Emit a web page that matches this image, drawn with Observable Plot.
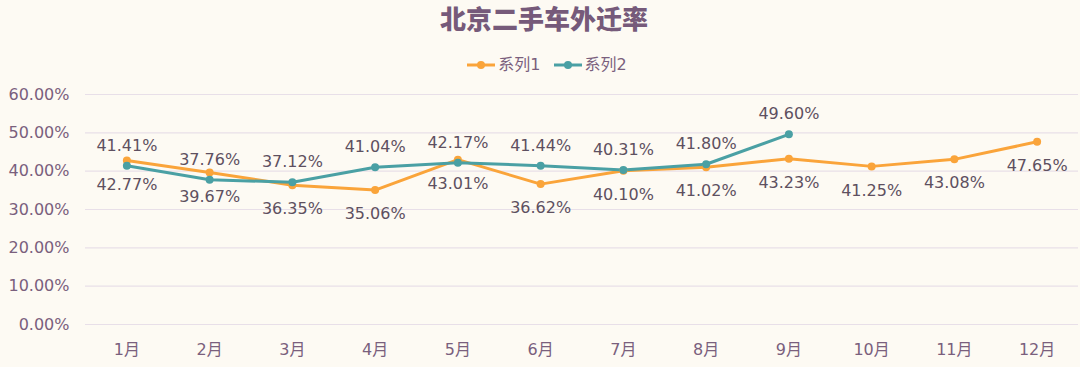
<!DOCTYPE html>
<html>
<head>
<meta charset="utf-8">
<script src="https://cdn.jsdelivr.net/npm/d3@7"></script>
<script src="https://cdn.jsdelivr.net/npm/@observablehq/plot@0.6"></script>
<style>
  html, body { margin: 0; padding: 0; background: #fdfaf3; }
  body { width: 1080px; height: 367px; overflow: hidden; font-family: "DejaVu Sans", "Noto Sans CJK SC", sans-serif; }
  #title { position: absolute; left: 0; top: 0; width: 1080px; text-align: center; font-family: "Noto Sans CJK SC", sans-serif; font-weight: 900; font-size: 26px; color: #765a7a; line-height: 36px; padding-left: 8px; box-sizing: border-box; }
  #legend { position: absolute; left: 0; top: 54px; width: 1080px; display: flex; justify-content: center; gap: 13px; font-size: 16px; color: #7a5f7d; font-family: "DejaVu Sans", "Noto Sans CJK SC", sans-serif; line-height: 22px; padding-left: 14px; box-sizing: border-box; }
  .item { display: flex; align-items: center; gap: 3px; }
  #chart { position: absolute; left: 0; top: 80px; }
</style>
</head>
<body>
<div id="title">北京二手车外迁率</div>
<div id="legend"></div>
<div id="chart"></div>
<script>
const months = ["1月","2月","3月","4月","5月","6月","7月","8月","9月","10月","11月","12月"];
const series1 = [42.77, 39.67, 36.35, 35.06, 43.01, 36.62, 40.10, 41.02, 43.23, 41.25, 43.08, 47.65];
const series2 = [41.41, 37.76, 37.12, 41.04, 42.17, 41.44, 40.31, 41.80, 49.60];
const seriesNames = ["系列1", "系列2"];
const seriesColors = ["#faa43a", "#4aa0a4"];
const yTicks = [0, 0.1, 0.2, 0.3, 0.4, 0.5, 0.6];

const d1 = series1.map((v, i) => ({month: months[i], value: v / 100, series: seriesNames[0]}));
const d2 = series2.map((v, i) => ({month: months[i], value: v / 100, series: seriesNames[1]}));
const fmt = d3.format(".2%");

// legend
const legend = document.getElementById("legend");
seriesNames.forEach((name, i) => {
  const item = document.createElement("div");
  item.className = "item";
  item.innerHTML = `<svg width="28" height="10"><line x1="0" y1="5" x2="28" y2="5" stroke="${seriesColors[i]}" stroke-width="3"/><circle cx="14" cy="5" r="4" fill="${seriesColors[i]}"/></svg><span>${name}</span>`;
  legend.appendChild(item);
});

const plot = Plot.plot({
  width: 1080,
  height: 287,
  marginLeft: 85,
  marginRight: 2,
  marginTop: 14,
  marginBottom: 43,
  style: { background: "transparent", fontFamily: "'DejaVu Sans', 'Noto Sans CJK SC', sans-serif", fontSize: "16px", color: "#7a5f7d" },
  x: { type: "point", domain: months, padding: 0.5, round: false, label: null },
  y: { domain: [0, 0.6], label: null },
  marks: [
    Plot.gridY(yTicks, { stroke: "#e8dfe8", strokeOpacity: 1, strokeWidth: 1.2 }),
    Plot.axisY(yTicks, { tickSize: 0, tickPadding: 16, tickFormat: fmt, label: null, fontSize: 16, fill: "#7a5f7d" }),
    Plot.axisX({ tickSize: 0, tickPadding: 19, label: null, fontSize: 16, fill: "#7a5f7d" }),
    Plot.line(d1, { x: "month", y: "value", stroke: seriesColors[0], strokeWidth: 3 }),
    Plot.line(d2, { x: "month", y: "value", stroke: seriesColors[1], strokeWidth: 3 }),
    Plot.dot(d1, { x: "month", y: "value", fill: seriesColors[0], r: 4 }),
    Plot.dot(d2, { x: "month", y: "value", fill: seriesColors[1], r: 4 }),
    Plot.text(d1, { x: "month", y: "value", text: d => fmt(d.value), dy: 24, fill: "#5e5060", fontSize: 16 }),
    Plot.text(d2, { x: "month", y: "value", text: d => fmt(d.value), dy: -20, fill: "#5e5060", fontSize: 16 })
  ]
});
document.getElementById("chart").appendChild(plot);
</script>
</body>
</html>
